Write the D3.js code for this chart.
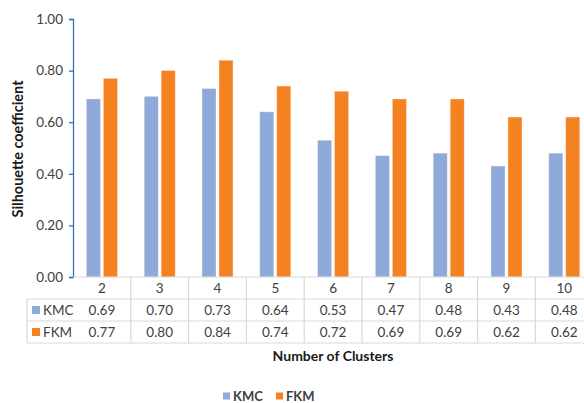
<!DOCTYPE html>
<html>
<head>
<meta charset="utf-8">
<script src="https://cdn.jsdelivr.net/npm/d3@7"></script>
<style>
  html, body { margin: 0; padding: 0; background: #fff; }
  svg { display: block; font-family: Lato, "Open Sans", sans-serif; }
</style>
</head>
<body>
<svg id="chart" width="584" height="403"></svg>
<script>
// Silhouette coefficient by number of clusters, KMC vs FKM
const clusters = ["2", "3", "4", "5", "6", "7", "8", "9", "10"];
const seriesNames = ["KMC", "FKM"];
const kmcValues = [0.69, 0.70, 0.73, 0.64, 0.53, 0.47, 0.48, 0.43, 0.48];
const fkmValues = [0.77, 0.80, 0.84, 0.74, 0.72, 0.69, 0.69, 0.62, 0.62];
const yTicks = [0, 0.2, 0.4, 0.6, 0.8, 1.0];

(function () {
const colors = { KMC: "#8eaadb", FKM: "#f58220" };
const seriesValues = { KMC: kmcValues, FKM: fkmValues };

const svg = d3.select("#chart");
const textColor = "#404040";
const gridColor = "#d9d9d9";

const plotLeft = 73, plotTop = 19, plotBottom = 277;
const step = 57.8;
const x = d3.scaleBand().domain(clusters).range([plotLeft, plotLeft + step * clusters.length]).padding(0);
const inner = d3.scaleBand().domain(seriesNames).range([0, x.bandwidth()])
  .paddingInner(0.176).paddingOuter(0.79);
const y = d3.scaleLinear().domain([0, 1]).range([plotBottom, plotTop]);

// bars
seriesNames.forEach(s => {
  svg.append("g").selectAll("rect")
    .data(clusters.map((c, i) => ({ c, v: seriesValues[s][i] })))
    .join("rect")
    .attr("x", d => x(d.c) + inner(s))
    .attr("y", d => y(d.v))
    .attr("width", inner.bandwidth())
    .attr("height", d => y(0) - y(d.v))
    .attr("fill", colors[s])
    .attr("stroke", "#fde9d9")
    .attr("stroke-opacity", 0.6)
    .attr("stroke-width", 0.6);
});

// y axis
const yAxis = d3.axisLeft(y).tickValues(yTicks).tickFormat(d3.format(".2f")).tickSizeOuter(0).tickSize(4).tickPadding(6);
const gy = svg.append("g").attr("transform", `translate(${plotLeft},0)`).call(yAxis);
gy.select(".domain").attr("stroke", "#2e75b6").attr("stroke-width", 1.3);
gy.selectAll(".tick line").attr("stroke", "#2e75b6").attr("stroke-width", 1.3);
gy.selectAll(".tick text").attr("fill", textColor).attr("font-size", 13.5).attr("font-family", "Lato, sans-serif");

// data table under the plot
const rowH = 22;
const rows = [plotBottom, plotBottom + rowH, plotBottom + 2 * rowH, plotBottom + 3 * rowH];
const tableLeft = 27;
const plotRight = plotLeft + step * clusters.length;
const grid = svg.append("g").attr("stroke", gridColor).attr("stroke-width", 1.2);
grid.append("line").attr("x1", plotLeft).attr("x2", plotRight).attr("y1", rows[0]).attr("y2", rows[0]);
rows.slice(1).forEach(r => grid.append("line").attr("x1", tableLeft).attr("x2", plotRight).attr("y1", r).attr("y2", r));
grid.append("line").attr("x1", tableLeft).attr("x2", tableLeft).attr("y1", rows[1]).attr("y2", rows[3]);
clusters.forEach(c => {
  grid.append("line").attr("x1", x(c) + x.bandwidth()).attr("x2", x(c) + x.bandwidth())
    .attr("y1", rows[0]).attr("y2", rows[3]);
});

// category labels
svg.append("g").selectAll("text").data(clusters).join("text")
  .attr("x", d => x(d) + x.bandwidth() / 2)
  .attr("y", rows[0] + rowH / 2)
  .attr("dy", "0.36em")
  .attr("text-anchor", "middle")
  .attr("fill", textColor)
  .attr("font-size", 13.5)
  .text(d => d);

// series rows
seriesNames.forEach((s, k) => {
  const cy = rows[k + 1] + rowH / 2;
  svg.append("rect").attr("x", 32).attr("y", cy - 4).attr("width", 8).attr("height", 8).attr("fill", colors[s]);
  svg.append("text").attr("x", 43).attr("y", cy).attr("dy", "0.36em")
    .attr("fill", textColor).attr("font-size", 13.5).text(s);
  svg.append("g").selectAll("text").data(clusters).join("text")
    .attr("x", d => x(d) + x.bandwidth() / 2)
    .attr("y", cy)
    .attr("dy", "0.36em")
    .attr("text-anchor", "middle")
    .attr("fill", textColor)
    .attr("font-size", 13.5)
    .text((d, i) => d3.format(".2f")(seriesValues[s][i]));
});

// axis titles
svg.append("text")
  .attr("transform", `translate(23,${(plotTop + plotBottom) / 2 + 1}) rotate(-90)`)
  .attr("text-anchor", "middle")
  .attr("fill", "#1a1a1a").attr("font-weight", "bold").attr("font-size", 14.5)
  .text("Silhouette coefficient");

svg.append("text")
  .attr("x", 333).attr("y", 361)
  .attr("text-anchor", "middle")
  .attr("fill", "#1a1a1a").attr("font-weight", "bold").attr("font-size", 14)
  .text("Number of Clusters");

// legend
const legend = svg.append("g").attr("transform", "translate(223,396)");
const legendX = [0, 53];
seriesNames.forEach((s, i) => {
  legend.append("rect").attr("x", legendX[i]).attr("y", -3.5).attr("width", 7).attr("height", 7).attr("fill", colors[s]);
  legend.append("text").attr("x", legendX[i] + 10).attr("y", 0).attr("dy", "0.36em")
    .attr("fill", "#404040").attr("font-weight", "bold").attr("font-size", 13).text(s);
});
})();
</script>
</body>
</html>
